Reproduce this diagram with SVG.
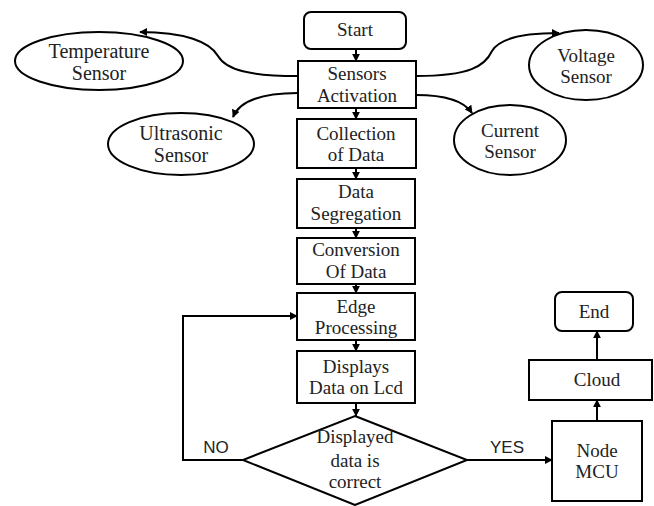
<svg xmlns="http://www.w3.org/2000/svg" width="654" height="506" viewBox="0 0 654 506">
  <style>
    .box { fill: #fff; stroke: #000; stroke-width: 2; }
    .oval { fill: #fff; stroke: #000; stroke-width: 2; }
    .line { fill: none; stroke: #000; stroke-width: 2; }
    .t { font-family: 'Liberation Serif', 'Times New Roman', 'DejaVu Serif', serif; font-size: 19px; fill: #222; text-anchor: middle; }
    .big { font-size: 20px; }
    .lbl { font-family: 'Liberation Sans', Arial, sans-serif; font-size: 17px; fill: #222; text-anchor: middle; }
  </style>
  <defs>
    <marker id="arrow" viewBox="0 0 10 10" refX="9" refY="5" markerWidth="4" markerHeight="4" orient="auto" markerUnits="strokeWidth">
      <path d="M0,0 L10,5 L0,10 z" fill="#000"/>
    </marker>
  </defs>
  <rect width="654" height="506" fill="#fff"/>

  <g id="connectors">
    <!-- main column -->
    <line class="line" x1="356" y1="49" x2="356" y2="61" marker-end="url(#arrow)"/>
    <line class="line" x1="356" y1="108" x2="356" y2="119" marker-end="url(#arrow)"/>
    <line class="line" x1="356" y1="168" x2="356" y2="179" marker-end="url(#arrow)"/>
    <line class="line" x1="356" y1="228" x2="356" y2="238" marker-end="url(#arrow)"/>
    <line class="line" x1="356" y1="284" x2="356" y2="293" marker-end="url(#arrow)"/>
    <line class="line" x1="356" y1="340" x2="356" y2="351" marker-end="url(#arrow)"/>
    <line class="line" x1="356" y1="403" x2="356" y2="416" marker-end="url(#arrow)"/>
    <!-- sensor links -->
    <path class="line" d="M298,76 C250,76 226,70 218,56 C210,42 185,32 140,32" marker-end="url(#arrow)"/>
    <path class="line" d="M298,93 C262,93 240,100 233,117" marker-end="url(#arrow)"/>
    <path class="line" d="M416,76 C470,76 485,66 492,51 C500,37 528,33 559,33" marker-end="url(#arrow)"/>
    <path class="line" d="M416,95 C445,95 464,101 472,113" marker-end="url(#arrow)"/>
    <!-- decision branches -->
    <polyline class="line" points="243,460 183,460 183,316 297,316" marker-end="url(#arrow)"/>
    <line class="line" x1="467" y1="460" x2="552" y2="460" marker-end="url(#arrow)"/>
    <line class="line" x1="597" y1="421" x2="597" y2="400" marker-end="url(#arrow)"/>
    <line class="line" x1="597" y1="360" x2="597" y2="331" marker-end="url(#arrow)"/>
  </g>

  <g id="start">
    <rect class="box" x="304" y="12" width="102" height="37" rx="7"/>
    <text class="t" x="355" y="36">Start</text>
  </g>
  <g id="sensors-activation">
    <rect class="box" x="298" y="61" width="118" height="47"/>
    <text class="t" x="357" y="80">Sensors</text>
    <text class="t" x="357" y="102">Activation</text>
  </g>
  <g id="collection">
    <rect class="box" x="297" y="119" width="119" height="49"/>
    <text class="t" x="356" y="140">Collection</text>
    <text class="t" x="356" y="161">of Data</text>
  </g>
  <g id="segregation">
    <rect class="box" x="297" y="179" width="118" height="49"/>
    <text class="t" x="356" y="198">Data</text>
    <text class="t" x="356" y="220">Segregation</text>
  </g>
  <g id="conversion">
    <rect class="box" x="297" y="238" width="118" height="46"/>
    <text class="t" x="356" y="256">Conversion</text>
    <text class="t" x="356" y="278">Of Data</text>
  </g>
  <g id="edge-processing">
    <rect class="box" x="297" y="293" width="118" height="47"/>
    <text class="t" x="356" y="313">Edge</text>
    <text class="t" x="356" y="334">Processing</text>
  </g>
  <g id="display">
    <rect class="box" x="297" y="351" width="118" height="52"/>
    <text class="t" x="356" y="373">Displays</text>
    <text class="t" x="356" y="394">Data on Lcd</text>
  </g>
  <g id="decision">
    <polygon class="box" points="355,416 467,460 355,505 243,460"/>
    <text class="t" x="355" y="443">Displayed</text>
    <text class="t" x="355" y="467">data is</text>
    <text class="t" x="355" y="488">correct</text>
  </g>
  <g id="no-label"><text class="lbl" x="216" y="453">NO</text></g>
  <g id="yes-label"><text class="lbl" x="507" y="453">YES</text></g>

  <g id="node-mcu">
    <rect class="box" x="552" y="421" width="90" height="80"/>
    <text class="t" x="597" y="457">Node</text>
    <text class="t" x="597" y="478">MCU</text>
  </g>
  <g id="cloud">
    <rect class="box" x="529" y="360" width="123" height="40"/>
    <text class="t" x="597" y="386">Cloud</text>
  </g>
  <g id="end">
    <rect class="box" x="555" y="292" width="78" height="39" rx="7"/>
    <text class="t" x="594" y="318">End</text>
  </g>

  <g id="temperature-sensor">
    <ellipse class="oval" cx="99" cy="61" rx="84" ry="29"/>
    <text class="t big" x="99" y="58">Temperature</text>
    <text class="t big" x="99" y="80">Sensor</text>
  </g>
  <g id="ultrasonic-sensor">
    <ellipse class="oval" cx="181" cy="144" rx="73" ry="31"/>
    <text class="t big" x="181" y="140">Ultrasonic</text>
    <text class="t big" x="181" y="162">Sensor</text>
  </g>
  <g id="voltage-sensor">
    <ellipse class="oval" cx="586" cy="65" rx="57" ry="35"/>
    <text class="t" x="586" y="62">Voltage</text>
    <text class="t" x="586" y="83">Sensor</text>
  </g>
  <g id="current-sensor">
    <ellipse class="oval" cx="510" cy="140" rx="56" ry="35"/>
    <text class="t" x="510" y="137">Current</text>
    <text class="t" x="510" y="158">Sensor</text>
  </g>
</svg>
